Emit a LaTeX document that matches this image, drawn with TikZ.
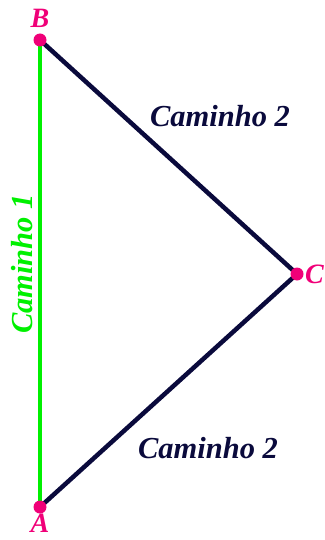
\documentclass[tikz,border=0pt]{standalone}
\usepackage{fontspec}
\setmainfont{Liberation Serif}
\usetikzlibrary{positioning}
\definecolor{pontocor}{RGB}{240,0,120}
\definecolor{navy}{RGB}{10,10,60}
\definecolor{verde}{RGB}{0,240,0}
\tikzset{
  ponto/.style={circle, fill=pontocor, inner sep=0pt, minimum size=13pt},
  letra/.style={text=pontocor, font=\fontsize{28}{28}\selectfont\bfseries\itshape},
  rotulo/.style={font=\fontsize{30.5}{30.5}\selectfont\bfseries\itshape}
}
\begin{document}
\begin{tikzpicture}[x=1pt,y=-1pt]
      \useasboundingbox (0,0) rectangle (324,540);
      \coordinate (A) at (40,507);
      \coordinate (B) at (40,40);
      \coordinate (C) at (297,274);
      \draw[verde, line width=4.5pt] (A) -- (B);
      \draw[navy, line width=4.5pt] (B) -- (C) -- (A);
      \node[ponto] (pA) at (A) {};
      \node[ponto] (pB) at (B) {};
      \node[ponto] (pC) at (C) {};
      \node[letra, above=2pt of pB] (lB) {B};
      \node[letra, below=-3pt of pA] (lA) {A};
      \node[letra, right=-2pt of pC] (lC) {C};
      \node[rotulo, text=navy] (r2a) at (220,116) {Caminho 2};
      \node[rotulo, text=navy] (r2b) at (208,448) {Caminho 2};
      \node[rotulo, text=verde, rotate=90] (r1) at (22,264) {Caminho 1};
    \end{tikzpicture}
\end{document}
